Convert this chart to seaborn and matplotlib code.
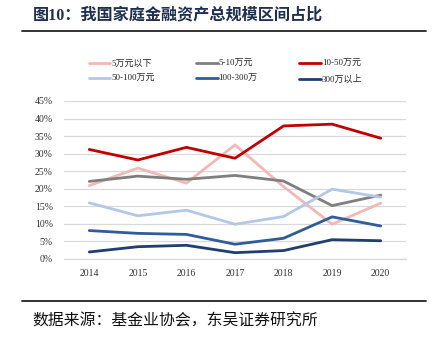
import matplotlib
matplotlib.use("Agg")
import matplotlib.pyplot as plt
import seaborn as sns
import pandas as pd
from matplotlib.lines import Line2D
from matplotlib.ticker import PercentFormatter

# --- DADOS ---
years = ["2014", "2015", "2016", "2017", "2018", "2019", "2020"]
series_names = ["5万元以下", "5-10万元", "10-50万元", "50-100万元", "100-300万", "300万以上"]
below_5 = [20.9, 25.9, 21.6, 32.5, 20.6, 9.9, 15.9]
from_5_to_10 = [22.1, 23.6, 22.7, 23.8, 22.2, 15.2, 18.2]
from_10_to_50 = [31.2, 28.2, 31.8, 28.7, 37.9, 38.4, 34.4]
from_50_to_100 = [16.0, 12.3, 13.9, 9.9, 12.1, 19.9, 17.6]
from_100_to_300 = [8.1, 7.3, 7.0, 4.2, 5.9, 12.0, 9.4]
above_300 = [2.0, 3.5, 3.9, 1.8, 2.4, 5.5, 5.2]

colors = ["#F2B8B6", "#7F7F7F", "#C00000", "#B4C7E7", "#2F5C9A", "#203F6E"]

values = [below_5, from_5_to_10, from_10_to_50, from_50_to_100, from_100_to_300, above_300]
rows = []
for name, vals in zip(series_names, values):
    for i, v in enumerate(vals):
        rows.append({"ano": i, "serie": name, "valor": v})
df = pd.DataFrame(rows)

sns.set_theme(style="white")
SERIF = ["Liberation Serif", "Noto Sans CJK SC"]
plt.rcParams["font.family"] = SERIF

fig = plt.figure(figsize=(4.36, 3.5), dpi=100)
ax = fig.add_axes([64 / 436, 1 - 259 / 350, (406 - 64) / 436, (259 - 101) / 350])

sns.lineplot(data=df, x="ano", y="valor", hue="serie", hue_order=series_names,
             palette=colors, linewidth=2.0, legend=False, ax=ax)

ax.set_xlim(-0.52, 6.52)
ax.set_ylim(0, 45)
ax.set_yticks(range(0, 46, 5))
ax.yaxis.set_major_formatter(PercentFormatter(decimals=0))
ax.set_xticks(range(len(years)))
ax.set_xticklabels(years)
ax.tick_params(axis="both", labelsize=7, length=0, colors="#333333")
ax.tick_params(axis="y", pad=8)
ax.tick_params(axis="x", pad=7)
ax.set_xlabel("")
ax.set_ylabel("")
ax.grid(axis="y", color="#D9D9D9", linewidth=0.9)
ax.set_axisbelow(True)
for s in ["top", "right", "left"]:
    ax.spines[s].set_visible(False)
ax.spines["bottom"].set_color("#D9D9D9")
ax.spines["bottom"].set_linewidth(0.9)

# legenda preenchida por linhas (3 colunas)
order = [0, 3, 1, 4, 2, 5]
handles = [Line2D([0], [0], color=colors[i], lw=2.0) for i in order]
labels = [series_names[i] for i in order]
fig.legend(handles, labels, ncol=3, loc="upper left",
           bbox_to_anchor=(84 / 436, 1 - 55 / 350), frameon=False,
           handlelength=2.4, handletextpad=0.1,
           columnspacing=4.6, labelspacing=0.75, borderpad=0,
           prop={"family": SERIF, "size": 6.5})

# título e fonte
fig.text(33 / 436, 1 - 15 / 350, "图10：我国家庭金融资产总规模区间占比", fontsize=11.6,
         fontweight="bold", color="#1F2F4F", va="center", ha="left", family=SERIF)
fig.add_artist(Line2D([22 / 436, 426 / 436], [1 - 31 / 350, 1 - 31 / 350],
                      color="#222222", lw=1.3, transform=fig.transFigure))
fig.add_artist(Line2D([22 / 436, 426 / 436], [1 - 301 / 350, 1 - 301 / 350],
                      color="#222222", lw=1.3, transform=fig.transFigure))
fig.text(32 / 436, 1 - 322 / 350, "数据来源：基金业协会，东吴证券研究所", fontsize=11.4,
         color="#111111", va="center", ha="left", family=SERIF)

fig.savefig("out.png", dpi=100)
